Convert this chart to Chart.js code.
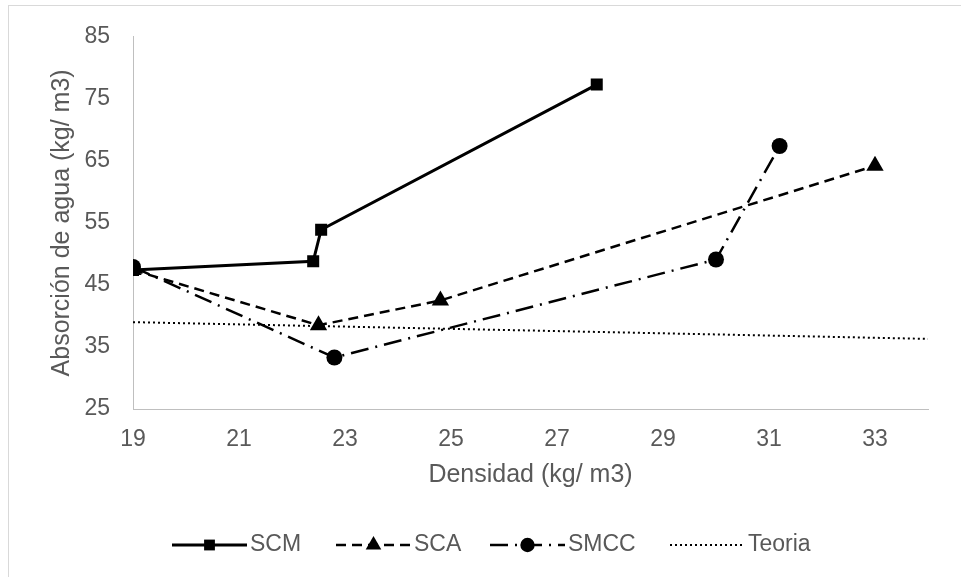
<!DOCTYPE html>
<html>
<head>
<meta charset="utf-8">
<script src="https://cdn.jsdelivr.net/npm/chart.js@4/dist/chart.umd.min.js"></script>
<style>
  html, body { margin: 0; padding: 0; background: #fff; }
  #wrap { width: 961px; height: 577px; position: relative; }
</style>
</head>
<body>
<div id="wrap"><canvas id="chart" width="961" height="577"></canvas></div>
<script>
// data
var scmX = [19.0, 22.4, 22.55, 27.75];
var scmY = [47.4, 48.8, 53.9, 77.3];
var scaX = [19.0, 22.5, 24.8, 33.0];
var scaY = [47.4, 38.5, 42.5, 64.2];
var smccX = [19.0, 22.8, 30.0, 31.2];
var smccY = [47.9, 33.3, 49.1, 67.4];
var teoriaX = [19, 34];
var teoriaY = [39.0, 36.3];
var xTicks = [19, 21, 23, 25, 27, 29, 31, 33];
var yTicks = [25, 35, 45, 55, 65, 75, 85];

function pts(xs, ys) {
    var out = [];
    for (var i = 0; i < xs.length; i++) out.push({x: xs[i], y: ys[i]});
    return out;
}

var textColor = '#595959';
var axisColor = '#bfbfbf';
var fontFamily = '"Liberation Sans", Arial, sans-serif';

var datasets = [
    {
        label: 'SCM', data: pts(scmX, scmY),
        borderColor: '#000', backgroundColor: '#000', borderWidth: 3,
        pointStyle: 'rect', pointRadius: 8.5, borderDash: []
    },
    {
        label: 'SCA', data: pts(scaX, scaY),
        borderColor: '#000', backgroundColor: '#000', borderWidth: 2.5,
        pointStyle: 'triangle', pointRadius: 10, borderDash: [10, 6]
    },
    {
        label: 'SMCC', data: pts(smccX, smccY),
        borderColor: '#000', backgroundColor: '#000', borderWidth: 2.5,
        pointStyle: 'circle', pointRadius: 8, borderDash: [18, 7, 2, 7]
    },
    {
        label: 'Teoria', data: pts(teoriaX, teoriaY),
        borderColor: '#000', backgroundColor: '#000', borderWidth: 2,
        pointStyle: 'circle', pointRadius: 0, borderDash: [2, 3]
    }
];
datasets.forEach(function(d) {
    d.fill = false;
    d.tension = 0;
    d.pointBorderWidth = 0;
    d.pointHoverRadius = d.pointRadius;
});

// legend positions (line sample start)
var legendStart = [172, 336, 490, 670];
var legendLen = 75;

// outer frame + custom legend (line sample with marker)
var framePlugin = {
    id: 'frame',
    beforeDraw: function(chart) {
        var ctx = chart.ctx;
        ctx.save();
        ctx.fillStyle = '#fff';
        ctx.fillRect(0, 0, chart.width, chart.height);
        ctx.strokeStyle = '#d9d9d9';
        ctx.lineWidth = 1;
        ctx.strokeRect(8.5, 5.5, chart.width, chart.height);
        ctx.restore();
    },
    afterDraw: function(chart) {
        var ctx = chart.ctx;
        var y = 545;
        ctx.save();
        ctx.font = '23px ' + fontFamily;
        ctx.textBaseline = 'middle';
        chart.data.datasets.forEach(function(ds, i) {
            var x0 = legendStart[i];
            ctx.strokeStyle = ds.borderColor;
            ctx.lineWidth = ds.borderWidth;
            ctx.setLineDash(ds.borderDash);
            ctx.beginPath();
            ctx.moveTo(x0, y);
            ctx.lineTo(x0 + legendLen, y);
            ctx.stroke();
            ctx.setLineDash([]);
            if (ds.pointRadius > 0) {
                ctx.fillStyle = '#000';
                Chart.helpers.drawPoint(ctx, {
                    pointStyle: ds.pointStyle, radius: ds.pointRadius * 0.9,
                    borderWidth: 0, rotation: 0
                }, x0 + legendLen / 2, y);
            }
            ctx.fillStyle = textColor;
            ctx.fillText(ds.label, x0 + legendLen + 3, y);
        });
        ctx.restore();
    }
};

var ctx = document.getElementById('chart').getContext('2d');
var chart = new Chart(ctx, {
    type: 'line',
    data: { datasets: datasets },
    plugins: [framePlugin],
    options: {
        responsive: false,
        animation: false,
        layout: { padding: { left: 47, top: 31, right: 33, bottom: 87 } },
        plugins: {
            legend: { display: false },
            tooltip: { enabled: false }
        },
        scales: {
            x: {
                type: 'linear', min: 19, max: 34,
                afterBuildTicks: function(axis) { axis.ticks = xTicks.map(function(v) { return {value: v}; }); },
                afterFit: function(axis) { axis.height = 81; },
                grid: { display: false, drawTicks: false },
                border: { color: axisColor, width: 1 },
                ticks: { color: textColor, padding: 17, maxRotation: 0, font: { size: 23, family: fontFamily } },
                title: { display: true, text: 'Densidad (kg/ m3)', color: textColor, padding: 0, font: { size: 25, family: fontFamily } }
            },
            y: {
                type: 'linear', min: 25, max: 85,
                afterBuildTicks: function(axis) { axis.ticks = yTicks.map(function(v) { return {value: v}; }); },
                afterFit: function(axis) { axis.width = 133 - 47; },
                grid: { display: false, drawTicks: false },
                border: { color: axisColor, width: 1 },
                ticks: { color: textColor, padding: 23, font: { size: 23, family: fontFamily } },
                title: { display: true, text: 'Absorción de agua (kg/ m3)', color: textColor, padding: 0, font: { size: 25, family: fontFamily } }
            }
        }
    }
});
</script>
</body>
</html>
